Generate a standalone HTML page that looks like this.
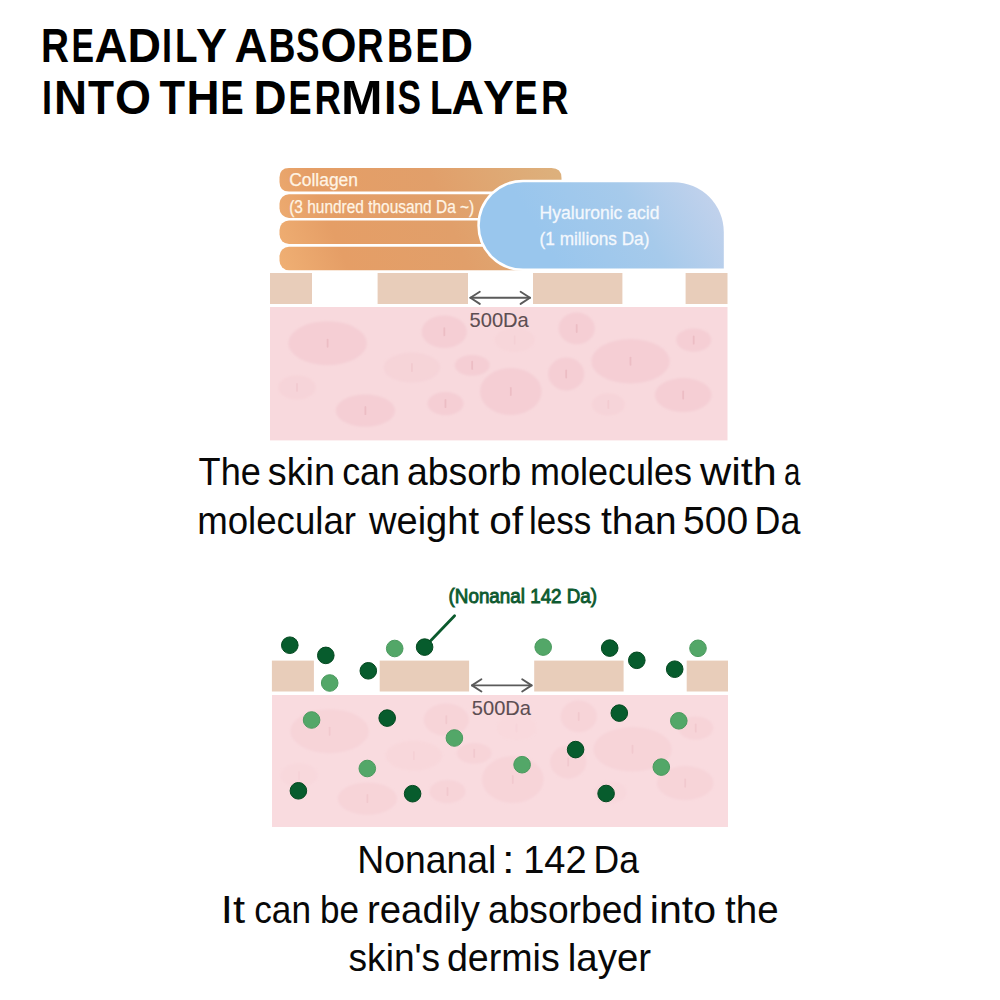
<!DOCTYPE html>
<html><head><meta charset="utf-8"><style>
html,body{margin:0;padding:0;background:#fff;width:1000px;height:1000px;overflow:hidden}
svg{display:block}
text{font-family:"Liberation Sans",sans-serif}
</style></head><body>
<svg width="1000" height="1000" viewBox="0 0 1000 1000">
<defs>
<linearGradient id="colg" x1="280" y1="272" x2="550" y2="160" gradientUnits="userSpaceOnUse">
<stop offset="0" stop-color="#f0b074"/><stop offset="0.22" stop-color="#e59e66"/><stop offset="0.6" stop-color="#e19f6a"/><stop offset="1" stop-color="#ddb07c"/></linearGradient>
<linearGradient id="hag" x1="560" y1="269" x2="720" y2="175" gradientUnits="userSpaceOnUse">
<stop offset="0" stop-color="#99c6ed"/><stop offset="0.5" stop-color="#a6caeb"/><stop offset="1" stop-color="#c7d3ec"/></linearGradient>
<filter id="soft" x="-20%" y="-20%" width="140%" height="140%"><feGaussianBlur stdDeviation="0.8"/></filter><filter id="soft2" x="-50%" y="-50%" width="200%" height="200%"><feGaussianBlur stdDeviation="0.5"/></filter>
</defs>
<g fill="url(#colg)"><path d="M289.0,168 L551.5,168 Q561.5,168 561.5,178 L561.5,191.6 L289.0,191.6 Q279.5,191.6 279.5,182.1 L279.5,177.5 Q279.5,168 289.0,168 Z"/><rect x="279.5" y="194.3" width="280.5" height="23.6" rx="9.5"/><rect x="279.5" y="220.5" width="280.5" height="23.6" rx="9.5"/><rect x="279.5" y="246.7" width="280.5" height="23.6" rx="9.5"/></g>
<path d="M523,182.2 L673.8,182.2 A50,50 0 0 1 723.8,232.2 L723.8,268.6 L523,268.6 A43.2,43.2 0 0 1 523,182.2 Z" fill="#fff" stroke="#fff" stroke-width="5"/>
<path d="M523,182.2 L673.8,182.2 A50,50 0 0 1 723.8,232.2 L723.8,268.6 L523,268.6 A43.2,43.2 0 0 1 523,182.2 Z" fill="url(#hag)"/>
<rect x="270" y="273" width="42.0" height="31.0" fill="#e8cdba"/>
<rect x="377.6" y="273" width="90.4" height="31.0" fill="#e8cdba"/>
<rect x="533" y="273" width="89.4" height="31.0" fill="#e8cdba"/>
<rect x="685.6" y="273" width="41.9" height="31.0" fill="#e8cdba"/>

<rect x="270" y="307" width="457.5" height="133.4" fill="#f8d9dd"/>
<g filter="url(#soft)"><ellipse cx="327.6" cy="343.2" rx="39.2" ry="22.0" fill="#f2c4cb" opacity="0.50"/><ellipse cx="444.3" cy="331.7" rx="22.6" ry="16.2" fill="#f2c4cb" opacity="0.50"/><ellipse cx="411.9" cy="367.6" rx="28.4" ry="15.0" fill="#f2c4cb" opacity="0.28"/><ellipse cx="472.2" cy="365.3" rx="17.4" ry="10.4" fill="#f2c4cb" opacity="0.50"/><ellipse cx="297.0" cy="387.4" rx="18.6" ry="12.2" fill="#f2c4cb" opacity="0.23"/><ellipse cx="365.4" cy="410.6" rx="29.6" ry="16.2" fill="#f2c4cb" opacity="0.50"/><ellipse cx="445.5" cy="403.6" rx="18.0" ry="11.6" fill="#f2c4cb" opacity="0.50"/><ellipse cx="510.8" cy="391.5" rx="30.8" ry="23.5" fill="#f2c4cb" opacity="0.50"/><ellipse cx="576.7" cy="328.4" rx="18.1" ry="15.8" fill="#f2c4cb" opacity="0.50"/><ellipse cx="566.2" cy="374.0" rx="18.1" ry="16.4" fill="#f2c4cb" opacity="0.50"/><ellipse cx="630.5" cy="361.2" rx="39.2" ry="22.2" fill="#f2c4cb" opacity="0.50"/><ellipse cx="693.7" cy="340.1" rx="17.5" ry="11.7" fill="#f2c4cb" opacity="0.50"/><ellipse cx="683.2" cy="395.1" rx="28.3" ry="17.0" fill="#f2c4cb" opacity="0.50"/><ellipse cx="608.3" cy="404.4" rx="16.4" ry="11.1" fill="#f2c4cb" opacity="0.23"/><ellipse cx="514.7" cy="340.0" rx="20.0" ry="12.0" fill="#f2c4cb" opacity="0.15"/></g>
<g filter="url(#soft2)"><rect x="326.7" y="338.7" width="1.8" height="9" rx="0.9" fill="#dc9aa4" opacity="0.33"/><rect x="443.4" y="327.2" width="1.8" height="9" rx="0.9" fill="#dc9aa4" opacity="0.33"/><rect x="411.0" y="363.1" width="1.8" height="9" rx="0.9" fill="#dc9aa4" opacity="0.18"/><rect x="471.3" y="360.8" width="1.8" height="9" rx="0.9" fill="#dc9aa4" opacity="0.33"/><rect x="296.1" y="382.9" width="1.8" height="9" rx="0.9" fill="#dc9aa4" opacity="0.15"/><rect x="364.5" y="406.1" width="1.8" height="9" rx="0.9" fill="#dc9aa4" opacity="0.33"/><rect x="444.6" y="399.1" width="1.8" height="9" rx="0.9" fill="#dc9aa4" opacity="0.33"/><rect x="509.9" y="387.0" width="1.8" height="9" rx="0.9" fill="#dc9aa4" opacity="0.33"/><rect x="575.8" y="323.9" width="1.8" height="9" rx="0.9" fill="#dc9aa4" opacity="0.33"/><rect x="565.3" y="369.5" width="1.8" height="9" rx="0.9" fill="#dc9aa4" opacity="0.33"/><rect x="629.6" y="356.7" width="1.8" height="9" rx="0.9" fill="#dc9aa4" opacity="0.33"/><rect x="692.8" y="335.6" width="1.8" height="9" rx="0.9" fill="#dc9aa4" opacity="0.33"/><rect x="682.3" y="390.6" width="1.8" height="9" rx="0.9" fill="#dc9aa4" opacity="0.33"/><rect x="607.4" y="399.9" width="1.8" height="9" rx="0.9" fill="#dc9aa4" opacity="0.15"/><rect x="513.8" y="335.5" width="1.8" height="9" rx="0.9" fill="#dc9aa4" opacity="0.10"/></g>

<g stroke="#5a5a5a" stroke-width="1.9" fill="none" stroke-linecap="round" stroke-linejoin="round"><line x1="470.40000000000003" y1="297.8" x2="530.0" y2="297.8"/><polyline points="479.8,291.7 470.40000000000003,297.8 479.8,303.90000000000003"/><polyline points="520.6,291.7 530.0,297.8 520.6,303.90000000000003"/></g>

<rect x="271.9" y="660.6" width="42.0" height="30.9" fill="#e8cdba"/>
<rect x="379.7" y="660.6" width="89.4" height="30.9" fill="#e8cdba"/>
<rect x="534.2" y="660.6" width="89.4" height="30.9" fill="#e8cdba"/>
<rect x="686.7" y="660.6" width="41.3" height="30.9" fill="#e8cdba"/>

<rect x="272" y="695" width="456" height="132" fill="#f9dbdf"/>
<g filter="url(#soft)"><ellipse cx="329.6" cy="731.2" rx="39.2" ry="22.0" fill="#f2c4cb" opacity="0.30"/><ellipse cx="446.3" cy="719.7" rx="22.6" ry="16.2" fill="#f2c4cb" opacity="0.30"/><ellipse cx="413.9" cy="755.6" rx="28.4" ry="15.0" fill="#f2c4cb" opacity="0.17"/><ellipse cx="474.2" cy="753.3" rx="17.4" ry="10.4" fill="#f2c4cb" opacity="0.30"/><ellipse cx="299.0" cy="775.4" rx="18.6" ry="12.2" fill="#f2c4cb" opacity="0.14"/><ellipse cx="367.4" cy="798.6" rx="29.6" ry="16.2" fill="#f2c4cb" opacity="0.30"/><ellipse cx="447.5" cy="791.6" rx="18.0" ry="11.6" fill="#f2c4cb" opacity="0.30"/><ellipse cx="512.8" cy="779.5" rx="30.8" ry="23.5" fill="#f2c4cb" opacity="0.30"/><ellipse cx="578.7" cy="716.4" rx="18.1" ry="15.8" fill="#f2c4cb" opacity="0.30"/><ellipse cx="568.2" cy="762.0" rx="18.1" ry="16.4" fill="#f2c4cb" opacity="0.30"/><ellipse cx="632.5" cy="749.2" rx="39.2" ry="22.2" fill="#f2c4cb" opacity="0.30"/><ellipse cx="695.7" cy="728.1" rx="17.5" ry="11.7" fill="#f2c4cb" opacity="0.30"/><ellipse cx="685.2" cy="783.1" rx="28.3" ry="17.0" fill="#f2c4cb" opacity="0.30"/><ellipse cx="610.3" cy="792.4" rx="16.4" ry="11.1" fill="#f2c4cb" opacity="0.14"/><ellipse cx="516.7" cy="728.0" rx="20.0" ry="12.0" fill="#f2c4cb" opacity="0.09"/></g>
<g filter="url(#soft2)"><rect x="328.7" y="726.7" width="1.8" height="9" rx="0.9" fill="#dc9aa4" opacity="0.20"/><rect x="445.4" y="715.2" width="1.8" height="9" rx="0.9" fill="#dc9aa4" opacity="0.20"/><rect x="413.0" y="751.1" width="1.8" height="9" rx="0.9" fill="#dc9aa4" opacity="0.11"/><rect x="473.3" y="748.8" width="1.8" height="9" rx="0.9" fill="#dc9aa4" opacity="0.20"/><rect x="298.1" y="770.9" width="1.8" height="9" rx="0.9" fill="#dc9aa4" opacity="0.09"/><rect x="366.5" y="794.1" width="1.8" height="9" rx="0.9" fill="#dc9aa4" opacity="0.20"/><rect x="446.6" y="787.1" width="1.8" height="9" rx="0.9" fill="#dc9aa4" opacity="0.20"/><rect x="511.9" y="775.0" width="1.8" height="9" rx="0.9" fill="#dc9aa4" opacity="0.20"/><rect x="577.8" y="711.9" width="1.8" height="9" rx="0.9" fill="#dc9aa4" opacity="0.20"/><rect x="567.3" y="757.5" width="1.8" height="9" rx="0.9" fill="#dc9aa4" opacity="0.20"/><rect x="631.6" y="744.7" width="1.8" height="9" rx="0.9" fill="#dc9aa4" opacity="0.20"/><rect x="694.8" y="723.6" width="1.8" height="9" rx="0.9" fill="#dc9aa4" opacity="0.20"/><rect x="684.3" y="778.6" width="1.8" height="9" rx="0.9" fill="#dc9aa4" opacity="0.20"/><rect x="609.4" y="787.9" width="1.8" height="9" rx="0.9" fill="#dc9aa4" opacity="0.09"/><rect x="515.8" y="723.5" width="1.8" height="9" rx="0.9" fill="#dc9aa4" opacity="0.06"/></g>

<g stroke="#5a5a5a" stroke-width="1.9" fill="none" stroke-linecap="round" stroke-linejoin="round"><line x1="472.0" y1="685.4" x2="531.6" y2="685.4"/><polyline points="481.4,679.3 472.0,685.4 481.4,691.5"/><polyline points="522.2,679.3 531.6,685.4 522.2,691.5"/></g>

<line x1="428" y1="643.5" x2="454.6" y2="615.7" stroke="#0b5a2d" stroke-width="2.8" stroke-linecap="round"/>
<circle cx="289.8" cy="645.2" r="8.3" fill="#075c2d" stroke="#03481f" stroke-width="1"/>
<circle cx="325.8" cy="655.4" r="8.3" fill="#075c2d" stroke="#03481f" stroke-width="1"/>
<circle cx="368.3" cy="670.8" r="8.3" fill="#075c2d" stroke="#03481f" stroke-width="1"/>
<circle cx="424.6" cy="647.1" r="8.3" fill="#075c2d" stroke="#03481f" stroke-width="1"/>
<circle cx="609.7" cy="648.1" r="8.3" fill="#075c2d" stroke="#03481f" stroke-width="1"/>
<circle cx="636.8" cy="660.3" r="8.3" fill="#075c2d" stroke="#03481f" stroke-width="1"/>
<circle cx="674.7" cy="669.2" r="8.3" fill="#075c2d" stroke="#03481f" stroke-width="1"/>
<circle cx="387.2" cy="718.1" r="8.3" fill="#075c2d" stroke="#03481f" stroke-width="1"/>
<circle cx="298.4" cy="790.8" r="8.3" fill="#075c2d" stroke="#03481f" stroke-width="1"/>
<circle cx="412.6" cy="793.7" r="8.3" fill="#075c2d" stroke="#03481f" stroke-width="1"/>
<circle cx="619.3" cy="713.1" r="8.3" fill="#075c2d" stroke="#03481f" stroke-width="1"/>
<circle cx="575.6" cy="749.6" r="8.3" fill="#075c2d" stroke="#03481f" stroke-width="1"/>
<circle cx="606.1" cy="793.5" r="8.3" fill="#075c2d" stroke="#03481f" stroke-width="1"/>
<circle cx="329.7" cy="683.0" r="8.3" fill="#53a768" stroke="#4a9a5e" stroke-width="1"/>
<circle cx="394.7" cy="648.5" r="8.3" fill="#53a768" stroke="#4a9a5e" stroke-width="1"/>
<circle cx="543.2" cy="647.1" r="8.3" fill="#53a768" stroke="#4a9a5e" stroke-width="1"/>
<circle cx="698.0" cy="648.3" r="8.3" fill="#53a768" stroke="#4a9a5e" stroke-width="1"/>
<circle cx="311.6" cy="720.0" r="8.3" fill="#53a768" stroke="#4a9a5e" stroke-width="1"/>
<circle cx="454.4" cy="738.0" r="8.3" fill="#53a768" stroke="#4a9a5e" stroke-width="1"/>
<circle cx="367.3" cy="768.5" r="8.3" fill="#53a768" stroke="#4a9a5e" stroke-width="1"/>
<circle cx="678.8" cy="720.8" r="8.3" fill="#53a768" stroke="#4a9a5e" stroke-width="1"/>
<circle cx="522.1" cy="764.7" r="8.3" fill="#53a768" stroke="#4a9a5e" stroke-width="1"/>
<circle cx="661.3" cy="767.1" r="8.3" fill="#53a768" stroke="#4a9a5e" stroke-width="1"/>
<text x="289.20" y="186" font-size="17.5" textLength="68.80" lengthAdjust="spacingAndGlyphs" fill="#fff4e4" stroke="#fff4e4" stroke-width="0.25">Collagen</text>
<text x="289.20" y="213" font-size="17.5" textLength="185.00" lengthAdjust="spacingAndGlyphs" fill="#fff4e4" stroke="#fff4e4" stroke-width="0.25">(3 hundred thousand Da ~)</text>
<text x="539.60" y="218.7" font-size="18" textLength="119.80" lengthAdjust="spacingAndGlyphs" fill="#f4f8fd" stroke="#f4f8fd" stroke-width="0.3">Hyaluronic acid</text>
<text x="539.60" y="244.5" font-size="18" textLength="109.80" lengthAdjust="spacingAndGlyphs" fill="#f4f8fd" stroke="#f4f8fd" stroke-width="0.3">(1 millions Da)</text>
<text x="469.60" y="326.6" font-size="19.8" textLength="59.20" lengthAdjust="spacingAndGlyphs" fill="#5d4e52" stroke="#5d4e52" stroke-width="0.1">500Da</text>
<text x="448.60" y="603.2" font-size="20" textLength="148.50" lengthAdjust="spacingAndGlyphs" fill="#0e5a30" stroke="#0e5a30" stroke-width="0.9">(Nonanal 142 Da)</text>
<text x="471.80" y="715.1" font-size="19.8" textLength="59.20" lengthAdjust="spacingAndGlyphs" fill="#5d4e52" stroke="#5d4e52" stroke-width="0.1">500Da</text>
<text x="41.00" y="62" font-size="48" font-weight="bold" textLength="28.00" lengthAdjust="spacingAndGlyphs" fill="#000">R</text>
<text x="71.50" y="62" font-size="48" font-weight="bold" textLength="22.50" lengthAdjust="spacingAndGlyphs" fill="#000">E</text>
<text x="94.50" y="62" font-size="48" font-weight="bold" textLength="33.00" lengthAdjust="spacingAndGlyphs" fill="#000">A</text>
<text x="127.50" y="62" font-size="48" font-weight="bold" textLength="33.50" lengthAdjust="spacingAndGlyphs" fill="#000">D</text>
<text x="162.00" y="62" font-size="48" font-weight="bold" textLength="10.00" lengthAdjust="spacingAndGlyphs" fill="#000">I</text>
<text x="175.00" y="62" font-size="48" font-weight="bold" textLength="22.50" lengthAdjust="spacingAndGlyphs" fill="#000">L</text>
<text x="196.00" y="62" font-size="48" font-weight="bold" textLength="31.00" lengthAdjust="spacingAndGlyphs" fill="#000">Y</text>
<text x="234.50" y="62" font-size="48" font-weight="bold" textLength="33.00" lengthAdjust="spacingAndGlyphs" fill="#000">A</text>
<text x="268.50" y="62" font-size="48" font-weight="bold" textLength="27.00" lengthAdjust="spacingAndGlyphs" fill="#000">B</text>
<text x="296.00" y="62" font-size="48" font-weight="bold" textLength="23.50" lengthAdjust="spacingAndGlyphs" fill="#000">S</text>
<text x="320.40" y="62" font-size="48" font-weight="bold" textLength="36.10" lengthAdjust="spacingAndGlyphs" fill="#000">O</text>
<text x="357.00" y="62" font-size="48" font-weight="bold" textLength="26.50" lengthAdjust="spacingAndGlyphs" fill="#000">R</text>
<text x="387.00" y="62" font-size="48" font-weight="bold" textLength="26.00" lengthAdjust="spacingAndGlyphs" fill="#000">B</text>
<text x="415.50" y="62" font-size="48" font-weight="bold" textLength="23.50" lengthAdjust="spacingAndGlyphs" fill="#000">E</text>
<text x="440.00" y="62" font-size="48" font-weight="bold" textLength="33.00" lengthAdjust="spacingAndGlyphs" fill="#000">D</text>
<text x="42.00" y="114" font-size="48" font-weight="bold" textLength="10.00" lengthAdjust="spacingAndGlyphs" fill="#000">I</text>
<text x="54.00" y="114" font-size="48" font-weight="bold" textLength="33.00" lengthAdjust="spacingAndGlyphs" fill="#000">N</text>
<text x="88.00" y="114" font-size="48" font-weight="bold" textLength="26.00" lengthAdjust="spacingAndGlyphs" fill="#000">T</text>
<text x="115.00" y="114" font-size="48" font-weight="bold" textLength="36.00" lengthAdjust="spacingAndGlyphs" fill="#000">O</text>
<text x="159.50" y="114" font-size="48" font-weight="bold" textLength="25.50" lengthAdjust="spacingAndGlyphs" fill="#000">T</text>
<text x="186.50" y="114" font-size="48" font-weight="bold" textLength="33.00" lengthAdjust="spacingAndGlyphs" fill="#000">H</text>
<text x="220.50" y="114" font-size="48" font-weight="bold" textLength="23.00" lengthAdjust="spacingAndGlyphs" fill="#000">E</text>
<text x="253.50" y="114" font-size="48" font-weight="bold" textLength="33.00" lengthAdjust="spacingAndGlyphs" fill="#000">D</text>
<text x="288.50" y="114" font-size="48" font-weight="bold" textLength="23.00" lengthAdjust="spacingAndGlyphs" fill="#000">E</text>
<text x="314.50" y="114" font-size="48" font-weight="bold" textLength="26.50" lengthAdjust="spacingAndGlyphs" fill="#000">R</text>
<text x="341.00" y="114" font-size="48" font-weight="bold" textLength="41.50" lengthAdjust="spacingAndGlyphs" fill="#000">M</text>
<text x="384.00" y="114" font-size="48" font-weight="bold" textLength="12.50" lengthAdjust="spacingAndGlyphs" fill="#000">I</text>
<text x="397.50" y="114" font-size="48" font-weight="bold" textLength="23.50" lengthAdjust="spacingAndGlyphs" fill="#000">S</text>
<text x="430.00" y="114" font-size="48" font-weight="bold" textLength="22.50" lengthAdjust="spacingAndGlyphs" fill="#000">L</text>
<text x="451.50" y="114" font-size="48" font-weight="bold" textLength="32.50" lengthAdjust="spacingAndGlyphs" fill="#000">A</text>
<text x="483.00" y="114" font-size="48" font-weight="bold" textLength="31.00" lengthAdjust="spacingAndGlyphs" fill="#000">Y</text>
<text x="514.50" y="114" font-size="48" font-weight="bold" textLength="23.00" lengthAdjust="spacingAndGlyphs" fill="#000">E</text>
<text x="541.00" y="114" font-size="48" font-weight="bold" textLength="27.50" lengthAdjust="spacingAndGlyphs" fill="#000">R</text>
<text x="198.60" y="484.7" font-size="39" textLength="62.20" lengthAdjust="spacingAndGlyphs" fill="#080808">The</text>
<text x="267.80" y="484.7" font-size="39" textLength="67.20" lengthAdjust="spacingAndGlyphs" fill="#080808">skin</text>
<text x="342.20" y="484.7" font-size="39" textLength="57.80" lengthAdjust="spacingAndGlyphs" fill="#080808">can</text>
<text x="407.00" y="484.7" font-size="39" textLength="114.20" lengthAdjust="spacingAndGlyphs" fill="#080808">absorb</text>
<text x="530.00" y="484.7" font-size="39" textLength="162.00" lengthAdjust="spacingAndGlyphs" fill="#080808">molecules</text>
<text x="700.00" y="484.7" font-size="39" textLength="76.80" lengthAdjust="spacingAndGlyphs" fill="#080808">with</text>
<text x="784.00" y="484.7" font-size="39" textLength="16.40" lengthAdjust="spacingAndGlyphs" fill="#080808">a</text>
<text x="197.20" y="533.8" font-size="39" textLength="158.80" lengthAdjust="spacingAndGlyphs" fill="#080808">molecular</text>
<text x="369.00" y="533.8" font-size="39" textLength="110.00" lengthAdjust="spacingAndGlyphs" fill="#080808">weight</text>
<text x="489.20" y="533.8" font-size="39" textLength="33.80" lengthAdjust="spacingAndGlyphs" fill="#080808">of</text>
<text x="529.00" y="533.8" font-size="39" textLength="62.20" lengthAdjust="spacingAndGlyphs" fill="#080808">less</text>
<text x="601.10" y="533.8" font-size="39" textLength="75.50" lengthAdjust="spacingAndGlyphs" fill="#080808">than</text>
<text x="683.10" y="533.8" font-size="39" textLength="65.00" lengthAdjust="spacingAndGlyphs" fill="#080808">500</text>
<text x="754.60" y="533.8" font-size="39" textLength="45.80" lengthAdjust="spacingAndGlyphs" fill="#080808">Da</text>
<text x="357.20" y="873" font-size="39" textLength="139.00" lengthAdjust="spacingAndGlyphs" fill="#080808">Nonanal</text>
<text x="502.00" y="873" font-size="39" textLength="12.60" lengthAdjust="spacingAndGlyphs" fill="#080808">:</text>
<text x="523.20" y="873" font-size="39" textLength="63.40" lengthAdjust="spacingAndGlyphs" fill="#080808">142</text>
<text x="593.60" y="873" font-size="39" textLength="45.40" lengthAdjust="spacingAndGlyphs" fill="#080808">Da</text>
<text x="220.80" y="922.7" font-size="39" textLength="24.20" lengthAdjust="spacingAndGlyphs" fill="#080808">It</text>
<text x="254.20" y="922.7" font-size="39" textLength="56.80" lengthAdjust="spacingAndGlyphs" fill="#080808">can</text>
<text x="320.00" y="922.7" font-size="39" textLength="39.00" lengthAdjust="spacingAndGlyphs" fill="#080808">be</text>
<text x="367.00" y="922.7" font-size="39" textLength="113.00" lengthAdjust="spacingAndGlyphs" fill="#080808">readily</text>
<text x="488.00" y="922.7" font-size="39" textLength="155.00" lengthAdjust="spacingAndGlyphs" fill="#080808">absorbed</text>
<text x="649.80" y="922.7" font-size="39" textLength="66.20" lengthAdjust="spacingAndGlyphs" fill="#080808">into</text>
<text x="725.00" y="922.7" font-size="39" textLength="53.60" lengthAdjust="spacingAndGlyphs" fill="#080808">the</text>
<text x="348.50" y="971" font-size="39" textLength="91.70" lengthAdjust="spacingAndGlyphs" fill="#080808">skin&#39;s</text>
<text x="446.90" y="971" font-size="39" textLength="112.90" lengthAdjust="spacingAndGlyphs" fill="#080808">dermis</text>
<text x="567.80" y="971" font-size="39" textLength="83.30" lengthAdjust="spacingAndGlyphs" fill="#080808">layer</text>
</svg>
</body></html>
